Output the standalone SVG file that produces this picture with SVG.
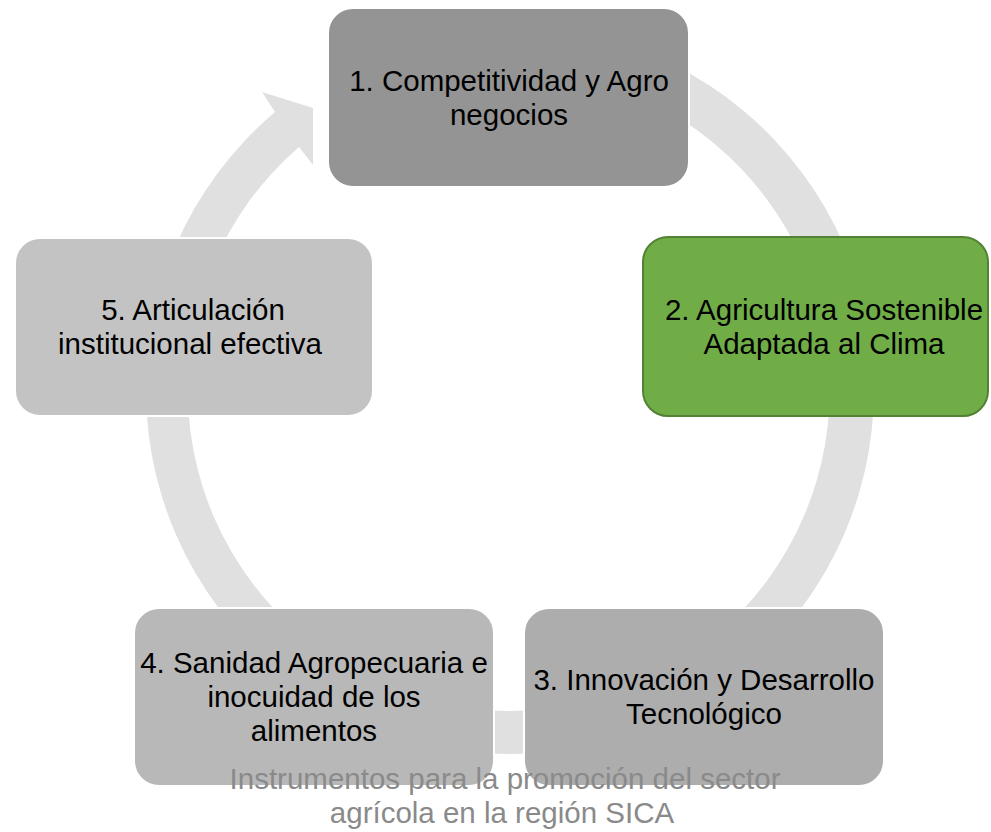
<svg xmlns="http://www.w3.org/2000/svg" width="991" height="832" viewBox="0 0 991 832">
  <style>
    .node rect { stroke: #ffffff; stroke-width: 2; }
    .lbl { font-family: "Liberation Sans", Arial, sans-serif; font-size: 29.5px; fill: #000000; text-anchor: middle; }
    .cap { font-family: "Liberation Sans", Arial, sans-serif; font-size: 29.5px; fill: #8a8a8a; text-anchor: middle; }
  </style>
  <rect x="0" y="0" width="991" height="832" fill="#ffffff"/>
  <g id="connectors">
    <path d="M 509 26 A 364 364 0 1 1 275 112 L 262 92 L 313 108 L 313 165 L 299 147 A 321 321 0 1 0 509 69 Z" fill="#e0e0e0"/>
  </g>
  <g id="node1" class="node">
    <rect x="328" y="8" width="361" height="179" rx="25" fill="#949494"/>
    <text class="lbl" x="509" y="91">1. Competitividad y Agro</text>
    <text class="lbl" x="509" y="125">negocios</text>
  </g>
  <g id="node2" class="node">
    <rect x="643" y="237" width="345" height="179" rx="25" fill="#70ad47" style="stroke:#548235"/>
    <text class="lbl" x="824" y="320">2. Agricultura Sostenible</text>
    <text class="lbl" x="824" y="354">Adaptada al Clima</text>
  </g>
  <g id="node3" class="node">
    <rect x="524" y="608" width="360" height="178" rx="25" fill="#adadad"/>
    <text class="lbl" x="704" y="690">3. Innovación y Desarrollo</text>
    <text class="lbl" x="704" y="724">Tecnológico</text>
  </g>
  <g id="node4" class="node">
    <rect x="134" y="608" width="360" height="178" rx="25" fill="#b8b8b8"/>
    <text class="lbl" x="314" y="672.5">4. Sanidad Agropecuaria e</text>
    <text class="lbl" x="314" y="707">inocuidad de los</text>
    <text class="lbl" x="314" y="741">alimentos</text>
  </g>
  <g id="node5" class="node">
    <rect x="15" y="238" width="358" height="178" rx="25" fill="#c3c3c3"/>
    <text class="lbl" x="193" y="320">5. Articulación</text>
    <text class="lbl" x="190" y="354">institucional efectiva</text>
  </g>
  <g id="caption">
    <text class="cap" x="505" y="789">Instrumentos para la promoción del sector</text>
    <text class="cap" x="502" y="823">agrícola en la región SICA</text>
  </g>
</svg>
